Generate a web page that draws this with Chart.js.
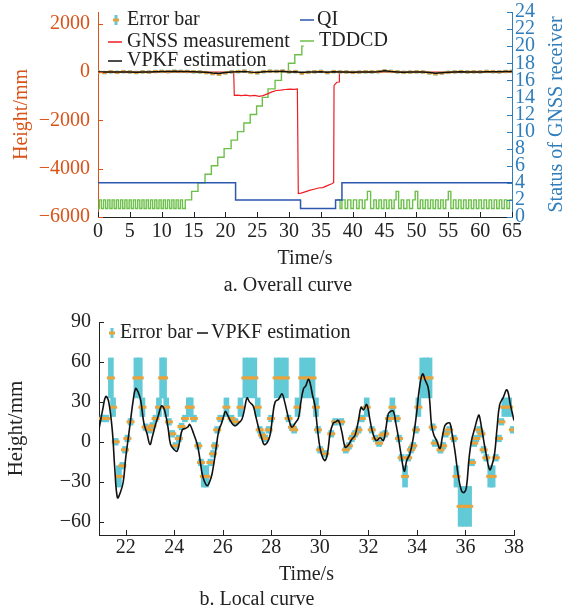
<!DOCTYPE html>
<html>
<head>
<meta charset="utf-8">
<script src="https://cdn.jsdelivr.net/npm/chart.js@4.4.0/dist/chart.umd.min.js"></script>
<style>
  html, body { margin: 0; padding: 0; background: #fff; }
  canvas { display: block; }
</style>
</head>
<body>
<canvas id="overall" width="576" height="300"></canvas>
<canvas id="local" width="576" height="312"></canvas>
<script>
// ---- a. overall curve ----
const topTime = [0, 1, 2, 3, 4, 5, 6, 7, 8, 9,
  10, 11, 12, 13, 14, 15, 16, 17, 18, 19,
  20, 21, 22, 23, 24, 25, 26, 27, 28, 29,
  30, 31, 32, 33, 34, 35, 36, 37, 38, 39,
  40, 41, 42, 43, 44, 45, 46, 47, 48, 49,
  50, 51, 52, 53, 54, 55, 56, 57, 58, 59,
  60, 61, 62, 63, 64, 65];
const errTopValue = [10, -20, 15, -10, 20, 5, -15, 10, 0, 25,
  30, 20, 35, 30, 25, 15, 10, -20, -60, -90,
  -30, 10, 20, 40, -10, -30, 20, 40, 30, 45,
  10, 20, -40, -10, 15, 30, -20, 20, 10, 5,
  -10, 0, 15, 10, 20, 50, 30, 10, -10, 0,
  15, 5, -30, -70, -40, -10, 10, 20, 5, 15,
  10, 30, 20, 10, 25, 30];
const errTopHalf = 60;
const vpkfTopValue = [0, 0, 5, 0, 5, 0, -5, 0, 5, 20,
  30, 30, 35, 30, 25, 20, 10, -10, -40, -60,
  -20, 10, 20, 30, 0, -20, 15, 30, 30, 40,
  10, 15, -20, 0, 10, 20, -10, 15, 10, 5,
  -5, 0, 10, 10, 20, 60, 30, 10, -5, 0,
  10, 5, -20, -50, -30, -10, 5, 15, 5, 10,
  10, 20, 20, 15, 25, 30];

const gnssTime = [0, 21.3, 21.4, 21.9, 22.5, 23.2, 23.9, 24.6, 25.3, 25.9,
  26.6, 27.3, 28.0, 28.7, 29.4, 30.1, 30.8, 31.3, 31.45, 31.9,
  32.5, 33.2, 33.9, 34.6, 35.3, 36.0, 36.7, 37.0, 37.06, 37.5,
  37.85, 37.9, 65];
const gnssHeight = [0, 0, -960, -950, -975, -955, -985, -965, -1000, -975,
  -900, -820, -760, -745, -720, -705, -715, -700, -5030, -5010,
  -4960, -4900, -4850, -4800, -4780, -4700, -4620, -4580, -550, -420,
  -410, 0, 0];

const qiTime = [0, 21.6, 31.8, 37.3, 38.3, 65];
const qiValue = [4, 2, 1, 2, 4, 4];

const tddcdTime = [0, 0.2, 0.53, 0.87, 1.2, 1.54, 1.87, 2.21, 2.54, 2.88,
  3.21, 3.55, 3.88, 4.22, 4.55, 4.89, 5.22, 5.56, 5.89, 6.23,
  6.56, 6.9, 7.23, 7.57, 7.9, 8.24, 8.57, 8.91, 9.24, 9.58,
  9.91, 10.25, 10.58, 10.92, 11.25, 11.59, 11.92, 12.26, 12.59, 12.93,
  13.26, 13.7, 14.7, 15.7, 16.8, 17.8, 18.8, 19.8, 20.9, 21.9,
  22.9, 23.9, 24.9, 25.8, 26.7, 27.8, 28.8, 29.9, 30.9, 32.0,
  32.3, 32.35, 37.5, 38.0, 38.3, 38.8, 39.2, 39.7, 40.1, 40.6,
  41.0, 41.5, 41.9, 42.3, 42.8, 43.3, 43.7, 44.1, 44.5, 44.9,
  45.3, 45.7, 46.1, 46.5, 46.8, 47.2, 47.6, 48.0, 48.5, 48.9,
  49.4, 49.8, 50.2, 50.6, 51.0, 51.4, 51.8, 52.2, 52.6, 53.0,
  53.4, 53.8, 54.2, 54.6, 55.0, 55.4, 55.8, 56.2, 56.6, 57.0,
  57.4, 57.8, 58.2, 58.6, 59.0, 59.4, 59.8, 60.2, 60.6, 61.0,
  61.4, 61.8, 62.2, 62.6, 63.0, 63.4, 63.8, 64.2, 64.6, 65];
const tddcdValue = [1, 2, 1, 2, 1, 2, 1, 2, 1, 2,
  1, 2, 1, 2, 1, 2, 1, 2, 1, 2,
  1, 2, 1, 2, 1, 2, 1, 2, 1, 2,
  1, 2, 1, 2, 1, 2, 1, 2, 1, 2,
  1, 2, 3, 4, 5, 6, 7, 8, 9, 10,
  11, 12, 13, 14, 15, 16, 17, 18, 19, 20,
  20, null, 2, 1, 2, 1, 2, 1, 2, 1,
  2, 1, 2, 3, 1, 2, 1, 2, 1, 2,
  1, 2, 1, 2, 3, 1, 2, 1, 2, 1,
  2, 3, 1, 2, 1, 2, 1, 2, 1, 2,
  1, 2, 1, 2, 3, 1, 2, 1, 2, 1,
  2, 1, 2, 1, 2, 1, 2, 1, 2, 1,
  2, 1, 2, 1, 2, 1, 2, 1, 2, 2];

const topXTicks = [0, 5, 10, 15, 20, 25, 30, 35, 40, 45, 50, 55, 60, 65];
const topHeightTicks = [-6000, -4000, -2000, 0, 2000];
const statusTicks = [0, 2, 4, 6, 8, 10, 12, 14, 16, 18, 20, 22, 24];

// ---- b. local curve ----
const errTime = [21.05, 21.2, 21.39, 21.48, 21.59, 21.72, 21.86, 21.97, 22.07, 22.2,
  22.44, 22.58, 22.69, 22.82, 22.99, 23.1, 23.23, 23.37, 23.5, 23.58,
  23.67, 23.78, 23.92, 24.05, 24.19, 24.3, 24.44, 24.6, 24.68, 24.81,
  24.99, 25.1, 25.22, 25.32, 25.49, 25.6, 25.68, 25.77, 25.9, 26.15,
  26.36, 26.52, 26.73, 26.93, 27.11, 27.3, 27.44, 27.52, 27.62, 27.75,
  27.89, 27.99, 28.22, 28.4, 28.6, 28.71, 28.85, 28.94, 29.08, 29.27,
  29.48, 29.7, 29.84, 29.92, 30.01, 30.22, 30.47, 30.63, 30.88, 31.07,
  31.2, 31.32, 31.45, 31.59, 31.73, 31.93, 32.14, 32.3, 32.44, 32.58,
  32.69, 32.85, 32.99, 33.17, 33.26, 33.37, 33.51, 33.64, 33.75, 33.85,
  33.96, 34.06, 34.22, 34.38, 34.52, 34.65, 34.74, 34.97, 35.08, 35.19,
  35.33, 35.52, 35.63, 35.8, 35.97, 36.15, 36.27, 36.36, 36.45, 36.56,
  36.66, 36.75, 36.86, 37.02, 37.12, 37.25, 37.38, 37.48, 37.6, 37.8, 37.95];
const errValue = [17.5, 17.5, 48, 26, 0, -26, -18, -6, 2.5, 15,
  48, 48, 26, 11, 9, 12, 17.5, 26, 48, 48,
  26, 15, 6, -3, 2.5, 11.5, 17.5, 26, 26, 17.5,
  -3, -15.5, -26, -26, -15.5, -9, -3, 9, 17.5, 26,
  17.5, 15, 26, 48, 48, 48, 26, 9, 5, 2.5,
  9, 17.5, 48, 48, 48, 17.5, 11, 9, 26, 48,
  48, 48, 26, 9, -6, -9, 6, 15, 15, -6,
  -3, 2.5, 6, 9, 17.5, 26, 9, 2.5, -1, 5,
  6, 17.5, 26, 17.5, 2.5, -12, -26, -12, -6, -3,
  9, 26, 48, 48, 48, 11, -1, -6, -3, 6,
  9, 2.5, -26, -48.5, -48.5, -48.5, -15.5, -1, 2.5, 9,
  6, -6, -12, -26, -26, -12, 2.5, 15, 26, 26, 9];
const errHalf = [2.5, 2.5, 15, 7, 2.5, 8, 2.5, 2.5, 2.5, 2.5,
  15, 15, 7, 2.5, 2.5, 2.5, 2.5, 7, 15, 15,
  7, 2.5, 2.5, 2.5, 2.5, 2.5, 2.5, 7, 7, 2.5,
  2.5, 2.5, 8, 8, 2.5, 2.5, 2.5, 2.5, 2.5, 7,
  2.5, 2.5, 7, 15, 15, 15, 7, 2.5, 2.5, 2.5,
  2.5, 2.5, 15, 15, 15, 2.5, 2.5, 2.5, 7, 15,
  15, 15, 7, 2.5, 2.5, 2.5, 2.5, 2.5, 2.5, 2.5,
  2.5, 2.5, 2.5, 2.5, 2.5, 7, 2.5, 2.5, 2.5, 2.5,
  2.5, 2.5, 7, 2.5, 2.5, 2.5, 8, 2.5, 2.5, 2.5,
  2.5, 7, 15, 15, 15, 2.5, 2.5, 2.5, 2.5, 2.5,
  2.5, 2.5, 8, 15, 15, 15, 2.5, 2.5, 2.5, 2.5,
  2.5, 2.5, 2.5, 8, 8, 2.5, 2.5, 2.5, 7, 7, 2.5];

const vpkfTime = [20.9, 21.05, 21.18, 21.3, 21.45, 21.55, 21.66, 21.78, 21.9, 22.0,
  22.1, 22.2, 22.3, 22.41, 22.52, 22.62, 22.75, 22.88, 23.0, 23.1,
  23.23, 23.35, 23.47, 23.55, 23.64, 23.75, 23.85, 24.0, 24.12, 24.22,
  24.33, 24.45, 24.55, 24.64, 24.8, 24.95, 25.05, 25.15, 25.25, 25.36,
  25.46, 25.56, 25.7, 25.83, 25.95, 26.05, 26.11, 26.2, 26.31, 26.42,
  26.52, 26.65, 26.79, 26.9, 27.0, 27.1, 27.25, 27.35, 27.47, 27.6,
  27.71, 27.85, 27.96, 28.06, 28.16, 28.3, 28.44, 28.55, 28.64, 28.75,
  28.85, 28.98, 29.12, 29.22, 29.33, 29.42, 29.53, 29.6, 29.7, 29.8,
  29.9, 30.01, 30.12, 30.22, 30.32, 30.42, 30.55, 30.65, 30.77, 30.9,
  31.04, 31.15, 31.32, 31.45, 31.59, 31.7, 31.8, 31.93, 32.05, 32.14,
  32.25, 32.34, 32.48, 32.62, 32.72, 32.82, 32.92, 33.03, 33.13, 33.23,
  33.35, 33.48, 33.58, 33.71, 33.85, 33.99, 34.1, 34.23, 34.35, 34.46,
  34.53, 34.6, 34.7, 34.81, 34.95, 35.05, 35.15, 35.25, 35.36, 35.45,
  35.56, 35.7, 35.84, 35.95, 36.04, 36.15, 36.25, 36.38, 36.5, 36.56,
  36.65, 36.75, 36.88, 37.0, 37.1, 37.2, 37.3, 37.41, 37.55, 37.71,
  37.85, 38.0];
const vpkfHeight = [9.5, 24, 34, 30, 8, -20, -42, -38, -30, -12,
  2, 16, 30, 40, 37, 31, 14, 6, -2, 4,
  13, 20, 27, 26, 21, 10, -2, -6, -7, 0,
  9, 10, 11, 13, 6, -2, -12, -24, -30, -33,
  -30, -24, -8, 8, 14, 20, 23, 20, 16, 13,
  12, 14, 17, 25, 33, 30, 27, 20, 11, 3,
  -2, 0, 6, 20, 30, 32, 36, 30, 23, 15,
  11, 14, 18, 30, 40, 42, 47, 44, 35, 27,
  10, -5, -12, -14, -8, 6, 14, 15, 16, 8,
  -4, -3, 2, 5, 16, 26, 24, 28, 18, 9.5,
  3, 1, 3, 1, 10, 21, 23, 23, 14, 4,
  -10, -22, -14, -9, 3, 22, 40, 51, 46, 41,
  30, 13, 5, 1, -5, 4, 12, 14, 14, 6,
  -6, -25, -37, -38, -34, -12, 1, 10, 18, 20,
  12, 1, -12, -21, -17, -9, 10, 28, 33, 39,
  28, 16];

const localXTicks = [22, 24, 26, 28, 30, 32, 34, 36, 38];
const localHeightTicks = [-60, -30, 0, 30, 60, 90];

// ---- style ----
const AXIS_ORANGE = '#d95319';
const AXIS_BLUE = '#2f7dbb';
const BAR_CYAN = '#62c9d6';
const MARK_ORANGE = '#e9a33c';
const INK = '#222';
const SERIF = "'Liberation Serif', 'Times New Roman', serif";

Chart.defaults.font.family = SERIF;
Chart.defaults.font.size = 20;
Chart.defaults.color = INK;

function fmt(v) {
  return v < 0 ? '\u2212' + Math.abs(v) : String(v);
}

function points(xs, ys) {
  return xs.map((x, i) => ({ x: x, y: ys[i] }));
}

function bars(xs, ys, half) {
  return xs.map((x, i) => {
    const h = Array.isArray(half) ? half[i] : half;
    return { x: x, y: [ys[i] - h, ys[i] + h] };
  });
}

// y axes: fixed width, and no extra room above the top tick label
function fixY(width) {
  return s => { s.width = width; s.paddingTop = 0; };
}

// ticks pointing into the plot, like the original figure
const innerTicks = {
  id: 'innerTicks',
  afterDatasetsDraw(chart, args, opts) {
    const ctx = chart.ctx;
    ctx.save();
    Object.keys(opts.scales || {}).forEach(id => {
      const s = chart.scales[id];
      const o = opts.scales[id];
      ctx.strokeStyle = o.color;
      ctx.lineWidth = 1;
      s.ticks.forEach(t => {
        const p = Math.round(s.getPixelForValue(t.value)) + 0.5;
        ctx.beginPath();
        if (s.position === 'left') {
          ctx.moveTo(s.right, p); ctx.lineTo(s.right + o.len, p);
        } else if (s.position === 'right') {
          ctx.moveTo(s.left, p); ctx.lineTo(s.left - o.len, p);
        } else {
          ctx.moveTo(p, s.top); ctx.lineTo(p, s.top - o.len);
        }
        ctx.stroke();
      });
    });
    ctx.restore();
  }
};

// legend drawn at fixed spots inside the plot
const plotLegend = {
  id: 'plotLegend',
  afterDraw(chart, args, opts) {
    if (!opts.items) return;
    const ctx = chart.ctx;
    ctx.save();
    ctx.font = (opts.size || 20) + 'px ' + SERIF;
    ctx.textBaseline = 'middle';
    opts.items.forEach(it => {
      const ds = chart.data.datasets[it.dataset];
      if (it.kind === 'err') {
        ctx.fillStyle = BAR_CYAN;
        ctx.fillRect(it.x - 1.5, it.y - 5, 3, 10);
        ctx.fillStyle = MARK_ORANGE;
        ctx.fillRect(it.x - 3, it.y - 1.5, 6, 3);
      } else {
        ctx.strokeStyle = ds.borderColor;
        ctx.lineWidth = 1.5;
        ctx.beginPath();
        ctx.moveTo(it.x, it.y);
        ctx.lineTo(it.x + it.w, it.y);
        ctx.stroke();
      }
      ctx.fillStyle = INK;
      ctx.fillText(ds.label, it.tx, it.y);
    });
    ctx.restore();
  }
};

// right-hand axis title reading bottom to top
const sideTitle = {
  id: 'sideTitle',
  afterDraw(chart, args, opts) {
    if (!opts.text) return;
    const ctx = chart.ctx;
    const a = chart.chartArea;
    ctx.save();
    ctx.font = '20px ' + SERIF;
    ctx.fillStyle = opts.color;
    ctx.textAlign = 'center';
    ctx.textBaseline = 'middle';
    ctx.translate(opts.x, (a.top + a.bottom) / 2);
    ctx.rotate(-Math.PI / 2);
    ctx.fillText(opts.text, 0, 0);
    ctx.restore();
  }
};

Chart.register(innerTicks, plotLegend, sideTitle);

new Chart(document.getElementById('overall'), {
  type: 'line',
  data: {
    datasets: [
      {
        label: 'Error bar', type: 'bar', data: bars(topTime, errTopValue, errTopHalf),
        backgroundColor: BAR_CYAN, borderWidth: 0, barThickness: 3, order: 4
      },
      {
        label: 'Error bar', type: 'scatter', data: points(topTime, errTopValue),
        pointStyle: 'line', pointRadius: 2.5, pointHoverRadius: 2.5,
        borderColor: MARK_ORANGE, pointBorderColor: MARK_ORANGE, pointBorderWidth: 3, order: 3
      },
      {
        label: 'GNSS measurement', data: points(gnssTime, gnssHeight),
        borderColor: '#ee1d23', borderWidth: 1.2, pointRadius: 0, order: 5
      },
      {
        label: 'VPKF estimation', data: points(topTime, vpkfTopValue),
        borderColor: '#111111', borderWidth: 1.5, pointRadius: 0, order: 1
      },
      {
        label: 'QI', yAxisID: 'y1', stepped: 'before', data: points(qiTime, qiValue),
        borderColor: '#2d56ad', borderWidth: 1.5, pointRadius: 0, order: 6
      },
      {
        label: 'TDDCD', yAxisID: 'y1', stepped: 'before', data: points(tddcdTime, tddcdValue),
        borderColor: '#6cc04a', borderWidth: 1.4, pointRadius: 0, spanGaps: false, order: 7
      }
    ]
  },
  options: {
    responsive: false,
    animation: false,
    devicePixelRatio: 1,
    layout: { padding: { top: 12, left: 0, right: 0, bottom: 0 } },
    plugins: {
      legend: { display: false },
      tooltip: { enabled: false },
      title: {
        display: true, text: 'a. Overall curve', position: 'bottom', color: INK,
        font: { size: 20, weight: 'normal' }, padding: { top: 2, bottom: 2 }
      },
      innerTicks: {
        scales: {
          x: { len: 5, color: INK },
          y: { len: 5, color: AXIS_ORANGE },
          y1: { len: 5, color: AXIS_BLUE }
        }
      },
      plotLegend: {
        items: [
          { dataset: 0, kind: 'err', x: 116, y: 20, tx: 127 },
          { dataset: 2, kind: 'line', x: 108, w: 14, y: 42, tx: 127 },
          { dataset: 3, kind: 'line', x: 108, w: 14, y: 61, tx: 127 },
          { dataset: 4, kind: 'line', x: 300, w: 14, y: 20, tx: 317 },
          { dataset: 5, kind: 'line', x: 300, w: 14, y: 41, tx: 319 }
        ]
      },
      sideTitle: { text: 'Status of GNSS receiver', color: AXIS_BLUE, x: 557 }
    },
    scales: {
      x: {
        type: 'linear', min: 0, max: 65, offset: false,
        afterBuildTicks: s => { s.ticks = topXTicks.map(v => ({ value: v })); },
        afterFit: s => { s.height = 55; },
        grid: { display: false, drawTicks: false },
        border: { display: true, color: INK, width: 1 },
        ticks: { padding: 3, autoSkip: false, maxRotation: 0, color: INK, callback: v => fmt(v) },
        title: { display: true, text: 'Time/s', color: INK, padding: { top: 3, bottom: 1 } }
      },
      y: {
        position: 'left', min: -6000, max: 2490,
        afterBuildTicks: s => { s.ticks = topHeightTicks.map(v => ({ value: v })); },
        afterFit: fixY(98),
        grid: { display: false, drawTicks: false },
        border: { display: true, color: AXIS_ORANGE, width: 1 },
        ticks: { padding: 8, autoSkip: false, color: AXIS_ORANGE, callback: v => fmt(v) },
        title: { display: true, text: 'Height/mm', color: AXIS_ORANGE, padding: { top: 10, bottom: 0 } }
      },
      y1: {
        position: 'right', min: 0, max: 24,
        afterBuildTicks: s => { s.ticks = statusTicks.map(v => ({ value: v })); },
        afterFit: fixY(64),
        grid: { display: false, drawTicks: false },
        border: { display: true, color: AXIS_BLUE, width: 1 },
        ticks: { padding: 3, autoSkip: false, color: AXIS_BLUE, callback: v => fmt(v) }
      }
    }
  }
});

new Chart(document.getElementById('local'), {
  type: 'line',
  data: {
    datasets: [
      {
        label: 'Error bar', type: 'bar', data: bars(errTime, errValue, errHalf),
        backgroundColor: BAR_CYAN, borderWidth: 0, barThickness: 5, order: 3
      },
      {
        label: 'Error bar', type: 'scatter', data: points(errTime, errValue),
        pointStyle: 'line', pointRadius: 4, pointHoverRadius: 4,
        borderColor: MARK_ORANGE, pointBorderColor: MARK_ORANGE, pointBorderWidth: 3, order: 2
      },
      {
        label: 'VPKF estimation', data: points(vpkfTime, vpkfHeight),
        borderColor: '#111111', borderWidth: 1.6, pointRadius: 0, tension: 0.4, order: 1
      }
    ]
  },
  options: {
    responsive: false,
    animation: false,
    devicePixelRatio: 1,
    layout: { padding: { top: 22, left: 0, right: 62, bottom: 0 } },
    plugins: {
      legend: { display: false },
      tooltip: { enabled: false },
      title: {
        display: true, text: 'b. Local curve', position: 'bottom', color: INK,
        font: { size: 20, weight: 'normal' }, padding: { top: 0, bottom: 0 }
      },
      innerTicks: {
        scales: {
          x: { len: 5, color: INK },
          y: { len: 5, color: INK }
        }
      },
      plotLegend: {
        size: 20,
        items: [
          { dataset: 0, kind: 'err', x: 112, y: 33, tx: 120 },
          { dataset: 2, kind: 'line', x: 197, w: 11, y: 33, tx: 211 }
        ]
      }
    },
    scales: {
      x: {
        type: 'linear', min: 20.9, max: 38, offset: false,
        afterBuildTicks: s => { s.ticks = localXTicks.map(v => ({ value: v })); },
        afterFit: s => { s.height = 53; },
        grid: { display: false, drawTicks: false },
        border: { display: true, color: INK, width: 1 },
        ticks: { padding: 1, autoSkip: false, maxRotation: 0, color: INK, callback: v => fmt(v) },
        title: { display: true, text: 'Time/s', color: INK, padding: { top: 3, bottom: 1 } }
      },
      y: {
        position: 'left', min: -70, max: 90,
        afterBuildTicks: s => { s.ticks = localHeightTicks.map(v => ({ value: v })); },
        afterFit: fixY(99),
        grid: { display: false, drawTicks: false },
        border: { display: true, color: INK, width: 1 },
        ticks: { padding: 8, autoSkip: false, color: INK, callback: v => fmt(v) },
        title: { display: true, text: 'Height/mm', color: INK, font: { size: 21 }, padding: { top: 4, bottom: 0 } }
      }
    }
  }
});
</script>
</body>
</html>
